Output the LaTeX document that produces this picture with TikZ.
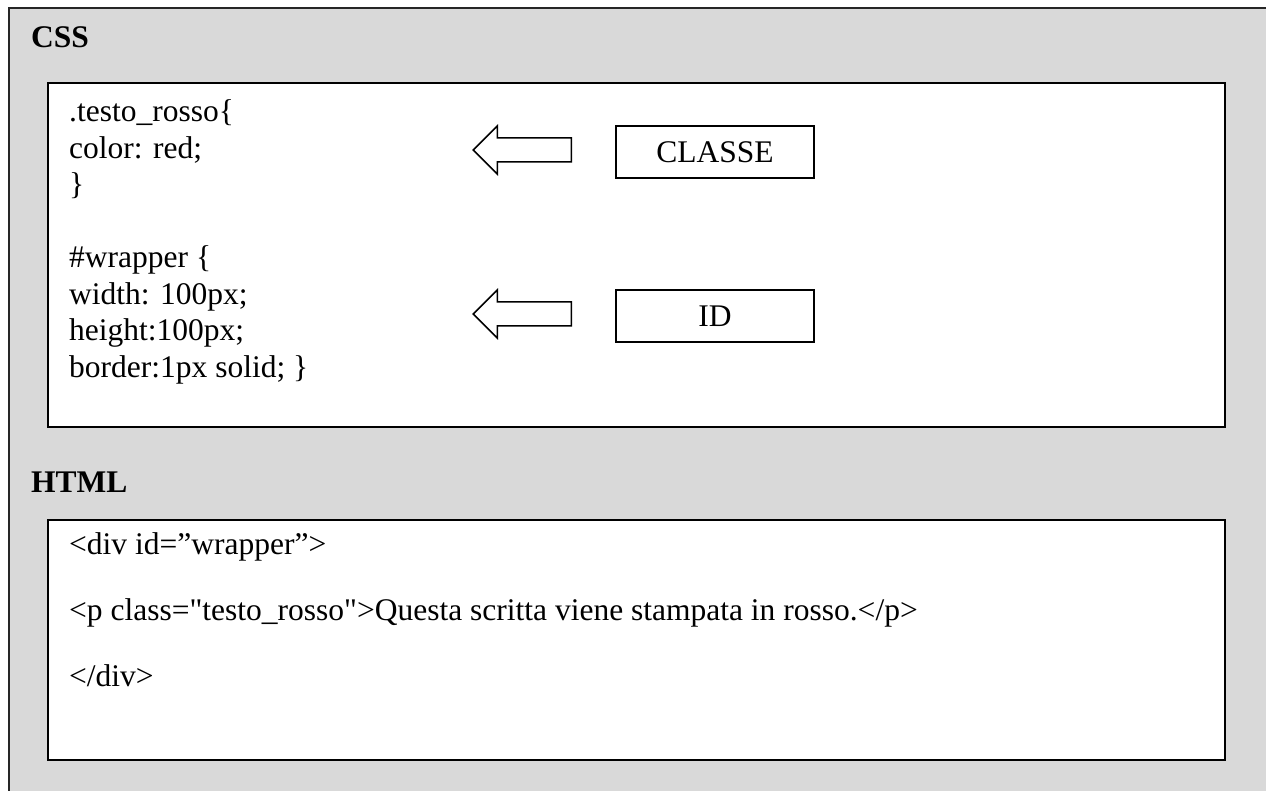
\documentclass[tikz,border=0pt]{standalone}
\usepackage{fontspec}
\setmainfont{Liberation Serif}
% code family without TeX ligature mapping, so " stays a straight quote
\newfontfamily\codefont{Liberation Serif}
\definecolor{panelgray}{RGB}{217,217,217}
\begin{document}
\begin{tikzpicture}[x=1pt,y=-1pt,
  panel/.style={draw=black, line width=2pt, fill=white, inner sep=0pt,
    anchor=north west},
  codeline/.style={anchor=base west, inner sep=0pt,
    font=\codefont\fontsize{31.5}{36}\selectfont},
  heading/.style={anchor=base west, inner sep=0pt,
    font=\codefont\fontsize{31.5}{36}\selectfont\bfseries},
  tagbox/.style={draw=black, line width=1.5pt, fill=white, inner sep=0pt,
    minimum width=198pt, minimum height=52pt,
    font=\codefont\fontsize{31.5}{36}\selectfont},
  blockarrow/.style={draw=black, line width=1.5pt, fill=white, line join=miter}]
\useasboundingbox (0,0) rectangle (1266,791);
\clip (0,0) rectangle (1266,791);
\fill[white] (0,0) rectangle (1266,791);

% grey page frame
\draw[fill=panelgray, draw=black!85, line width=2pt] (9,8) rectangle (1290,820);

% section headings
\node[heading] (csslabel) at (31,48) {CSS};
\node[heading] (htmllabel) at (31,492) {HTML};

% white panels
\node[panel, minimum width=1177pt, minimum height=344pt] (cssbox) at (47,82) {};
\node[panel, minimum width=1177pt, minimum height=240pt] (htmlbox) at (47,519) {};

% CSS rules
\node[codeline] (c1) at (69,122)   {.testo\_rosso\{};
\node[codeline] (c2) at (69,158.5) {color: red;};
\node[codeline] (c3) at (69,195)   {\}};
\node[codeline] (c4) at (69,268)   {\#wrapper \{};
\node[codeline] (c5) at (69,304.5) {width: 100px;};
\node[codeline] (c6) at (69,341)   {height:100px;};
\node[codeline] (c7) at (69,377.5) {border:1px solid; \}};

% labels on the right
\node[tagbox] (classe) at (715,152) {CLASSE};
\node[tagbox] (idtag)  at (715,316) {ID};

% hollow block arrows pointing back at the rules
\foreach \t in {classe,idtag}{
  \draw[blockarrow, shift={(\t.west)}]
    (-44,-14) -- (-118,-14) -- (-118,-26) -- (-142,-2) -- (-118,22)
    -- (-118,10) -- (-44,10) -- cycle;
}

% HTML markup
\node[codeline] (h1) at (69,554) {<div id=”wrapper”>};
\node[codeline] (h2) at (69,620) {<p class="testo\_rosso">Questa scritta viene stampata in rosso.</p>};
\node[codeline] (h3) at (69,686) {</div>};
\end{tikzpicture}
\end{document}
